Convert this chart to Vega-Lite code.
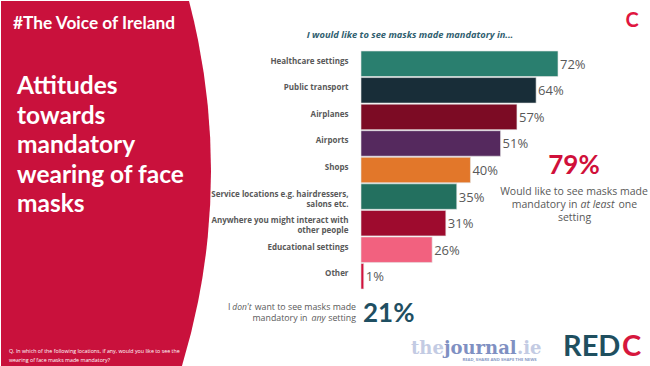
{
  "$schema": "https://vega.github.io/schema/vega-lite/v6.json",
  "width": 650,
  "height": 366,
  "autosize": {"type": "fit", "contains": "padding"},
  "padding": 0,
  "background": "white",
  "config": {"view": {"stroke": null}, "font": "Open Sans"},
  "data": {
    "values": [
      {"setting": "Healthcare settings", "pct": 0.72},
      {"setting": "Public transport", "pct": 0.64},
      {"setting": "Airplanes", "pct": 0.57},
      {"setting": "Airports", "pct": 0.51},
      {"setting": "Shops", "pct": 0.40},
      {"setting": "Service locations e.g. hairdressers, salons etc.", "pct": 0.35},
      {"setting": "Anywhere you might interact with other people", "pct": 0.31},
      {"setting": "Educational settings", "pct": 0.26},
      {"setting": "Other", "pct": 0.01}
    ]
  },
  "layer": [
    {
      "data": {"values": [{}]},
      "mark": {"type": "arc", "x": -458, "y": 170, "radius": 668, "radius2": 0, "theta": 0, "theta2": 6.2832, "fill": "#c9113c", "clip": true},
      "encoding": {}
    },
    {
      "mark": {"type": "bar", "stroke": "#e4e4e4", "strokeWidth": 0.6},
      "encoding": {
        "x": {"field": "pct", "type": "quantitative", "axis": null, "scale": {"domain": [0, 1], "range": [360, 633.6], "nice": false}},
        "y": {"field": "setting", "type": "nominal", "axis": null, "sort": null,
          "scale": {"domain": ["Healthcare settings", "Public transport", "Airplanes", "Airports", "Shops", "Service locations e.g. hairdressers, salons etc.", "Anywhere you might interact with other people", "Educational settings", "Other"], "range": [50, 288], "paddingInner": 0.04, "paddingOuter": 0}},
        "color": {"field": "setting", "type": "nominal", "legend": null,
          "scale": {"domain": ["Healthcare settings", "Public transport", "Airplanes", "Airports", "Shops", "Service locations e.g. hairdressers, salons etc.", "Anywhere you might interact with other people", "Educational settings", "Other"],
            "range": ["#2a7f6f", "#182d38", "#7c0b24", "#55295e", "#e2772a", "#23705f", "#9e0b2e", "#f2617f", "#d3123c"]}}
      }
    },
    {
      "mark": {"type": "text", "align": "left", "baseline": "middle", "dx": 2, "dy": 1, "fontSize": 13, "color": "#595959"},
      "encoding": {
        "x": {"field": "pct", "type": "quantitative"},
        "y": {"field": "setting", "type": "nominal", "sort": null},
        "text": {"field": "pct", "type": "quantitative", "format": ".0%"}
      }
    },
    {
      "transform": [
        {"calculate": "datum.setting == 'Service locations e.g. hairdressers, salons etc.' ? ['Service locations e.g. hairdressers,', 'salons etc.'] : datum.setting == 'Anywhere you might interact with other people' ? ['Anywhere you might interact with', 'other people'] : datum.setting", "as": "label"}
      ],
      "mark": {"type": "text", "align": "right", "baseline": "middle", "dx": -12.5, "dy": -2, "fontSize": 8, "fontWeight": "bold", "color": "#595959", "lineHeight": 10},
      "encoding": {
        "x": {"datum": 0, "type": "quantitative"},
        "y": {"field": "setting", "type": "nominal", "sort": null},
        "text": {"field": "label", "type": "nominal"}
      }
    },
    {
      "data": {"values": [{}]},
      "mark": {"type": "text", "text": "#The Voice of Ireland", "x": 12, "y": 28, "align": "left", "baseline": "alphabetic", "font": "Lato", "fontSize": 17.3, "fontWeight": "bold", "color": "white"},
      "encoding": {}
    },
    {
      "data": {"values": [{}]},
      "mark": {"type": "text", "text": ["Attitudes", "towards", "mandatory", "wearing of face", "masks"], "x": 16, "y": 93, "align": "left", "baseline": "alphabetic", "lineHeight": 29.5, "font": "Lato", "fontSize": 24.5, "fontWeight": "bold", "color": "white"},
      "encoding": {}
    },
    {
      "data": {"values": [{}]},
      "mark": {"type": "text", "text": ["Q. In which of the following locations, if any, would you like to see the", "wearing of face masks made mandatory?"], "x": 8, "y": 350, "align": "left", "baseline": "middle", "lineHeight": 8.5, "fontSize": 5.3, "color": "white"},
      "encoding": {}
    },
    {
      "data": {"values": [{}]},
      "mark": {"type": "text", "text": "I would like to see masks made mandatory in...", "x": 409, "y": 34, "align": "center", "baseline": "middle", "fontSize": 9.3, "fontStyle": "italic", "fontWeight": "bold", "color": "#30606f"},
      "encoding": {}
    },
    {
      "data": {"values": [{}]},
      "mark": {"type": "text", "text": "79%", "x": 573, "y": 165, "align": "center", "baseline": "middle", "font": "Lato", "fontSize": 26, "fontWeight": "bold", "color": "#d0103a"},
      "encoding": {}
    },
    {
      "data": {"values": [{}]},
      "mark": {"type": "text", "text": "Would like to see masks made", "x": 573, "y": 191, "align": "center", "baseline": "middle", "fontSize": 10.5, "color": "#595959"},
      "encoding": {}
    },
    {
      "data": {"values": [{}]},
      "mark": {"type": "text", "text": "mandatory in", "x": 576.5, "y": 204, "align": "right", "baseline": "middle", "fontSize": 10.5, "color": "#595959"},
      "encoding": {}
    },
    {
      "data": {"values": [{}]},
      "mark": {"type": "text", "text": "at least", "x": 579.5, "y": 204, "align": "left", "baseline": "middle", "fontSize": 10.5, "fontStyle": "italic", "color": "#595959"},
      "encoding": {}
    },
    {
      "data": {"values": [{}]},
      "mark": {"type": "rule", "x": 579.5, "x2": 614, "y": 209, "stroke": "#595959", "strokeWidth": 0.7},
      "encoding": {}
    },
    {
      "data": {"values": [{}]},
      "mark": {"type": "text", "text": "one", "x": 617.5, "y": 204, "align": "left", "baseline": "middle", "fontSize": 10.5, "color": "#595959"},
      "encoding": {}
    },
    {
      "data": {"values": [{}]},
      "mark": {"type": "text", "text": "setting", "x": 573.5, "y": 217, "align": "center", "baseline": "middle", "fontSize": 10.5, "color": "#595959"},
      "encoding": {}
    },
    {
      "data": {"values": [{}]},
      "mark": {"type": "text", "text": "want to see masks made", "x": 355, "y": 306, "align": "right", "baseline": "middle", "fontSize": 8.8, "color": "#595959"},
      "encoding": {}
    },
    {
      "data": {"values": [{}]},
      "mark": {"type": "text", "text": "don't", "x": 250.5, "y": 306, "align": "right", "baseline": "middle", "fontSize": 8.5, "fontStyle": "italic", "color": "#595959"},
      "encoding": {}
    },
    {
      "data": {"values": [{}]},
      "mark": {"type": "rule", "x": 233, "x2": 250.5, "y": 310.8, "stroke": "#595959", "strokeWidth": 0.6},
      "encoding": {}
    },
    {
      "data": {"values": [{}]},
      "mark": {"type": "text", "text": "I", "x": 229.5, "y": 306, "align": "right", "baseline": "middle", "fontSize": 8.8, "color": "#595959"},
      "encoding": {}
    },
    {
      "data": {"values": [{}]},
      "mark": {"type": "text", "text": "setting", "x": 355, "y": 316.5, "align": "right", "baseline": "middle", "fontSize": 8.8, "color": "#595959"},
      "encoding": {}
    },
    {
      "data": {"values": [{}]},
      "mark": {"type": "text", "text": "any", "x": 324.5, "y": 316.5, "align": "right", "baseline": "middle", "fontSize": 8.8, "fontStyle": "italic", "color": "#595959"},
      "encoding": {}
    },
    {
      "data": {"values": [{}]},
      "mark": {"type": "rule", "x": 309, "x2": 324.5, "y": 321.5, "stroke": "#595959", "strokeWidth": 0.6},
      "encoding": {}
    },
    {
      "data": {"values": [{}]},
      "mark": {"type": "text", "text": "mandatory in", "x": 306.5, "y": 316.5, "align": "right", "baseline": "middle", "fontSize": 8.8, "color": "#595959"},
      "encoding": {}
    },
    {
      "data": {"values": [{}]},
      "mark": {"type": "text", "text": "21%", "x": 362, "y": 313, "align": "left", "baseline": "middle", "font": "Lato", "fontSize": 26, "fontWeight": "bold", "color": "#1f4f62"},
      "encoding": {}
    },
    {
      "data": {"values": [{}]},
      "mark": {"type": "text", "text": "the", "x": 410, "y": 353, "align": "left", "baseline": "alphabetic", "font": "DejaVu Serif", "fontSize": 18, "fontWeight": "bold", "color": "#c3cbe3"},
      "encoding": {}
    },
    {
      "data": {"values": [{}]},
      "mark": {"type": "text", "text": "journal", "x": 443, "y": 353, "align": "left", "baseline": "alphabetic", "font": "DejaVu Serif", "fontSize": 18, "fontWeight": "bold", "color": "#7f90c2"},
      "encoding": {}
    },
    {
      "data": {"values": [{}]},
      "mark": {"type": "text", "text": ".ie", "x": 516, "y": 353, "align": "left", "baseline": "alphabetic", "font": "DejaVu Serif", "fontSize": 18, "fontWeight": "bold", "color": "#c3cbe3"},
      "encoding": {}
    },
    {
      "data": {"values": [{}]},
      "mark": {"type": "text", "text": "READ, SHARE AND SHAPE THE NEWS", "x": 498.5, "y": 358.5, "align": "center", "baseline": "middle", "fontSize": 4.2, "fontWeight": "bold", "color": "#8a9bc6"},
      "encoding": {}
    },
    {
      "data": {"values": [{}]},
      "mark": {"type": "text", "text": "RED", "x": 562, "y": 355, "align": "left", "baseline": "alphabetic", "font": "Lato", "fontSize": 29, "fontWeight": "bold", "color": "#1f4f5f"},
      "encoding": {}
    },
    {
      "data": {"values": [{}]},
      "mark": {"type": "text", "text": "C", "x": 621, "y": 355, "align": "left", "baseline": "alphabetic", "font": "Lato", "fontSize": 29, "fontWeight": "bold", "color": "#d6173d"},
      "encoding": {}
    },
    {
      "data": {"values": [{}]},
      "mark": {"type": "text", "text": "C", "x": 631, "y": 20, "align": "center", "baseline": "middle", "font": "Lato", "fontSize": 20, "fontWeight": "bold", "color": "#e0163f"},
      "encoding": {}
    },
    {
      "data": {"values": [{}]},
      "mark": {"type": "rule", "x": 648, "y": 0, "y2": 366, "stroke": "#9a9a9a", "strokeWidth": 1.2},
      "encoding": {}
    },
    {
      "data": {"values": [{}]},
      "mark": {"type": "rule", "x": 0, "x2": 650, "y": 364.5, "stroke": "#3a3a3a", "strokeWidth": 3},
      "encoding": {}
    }
  ]
}
